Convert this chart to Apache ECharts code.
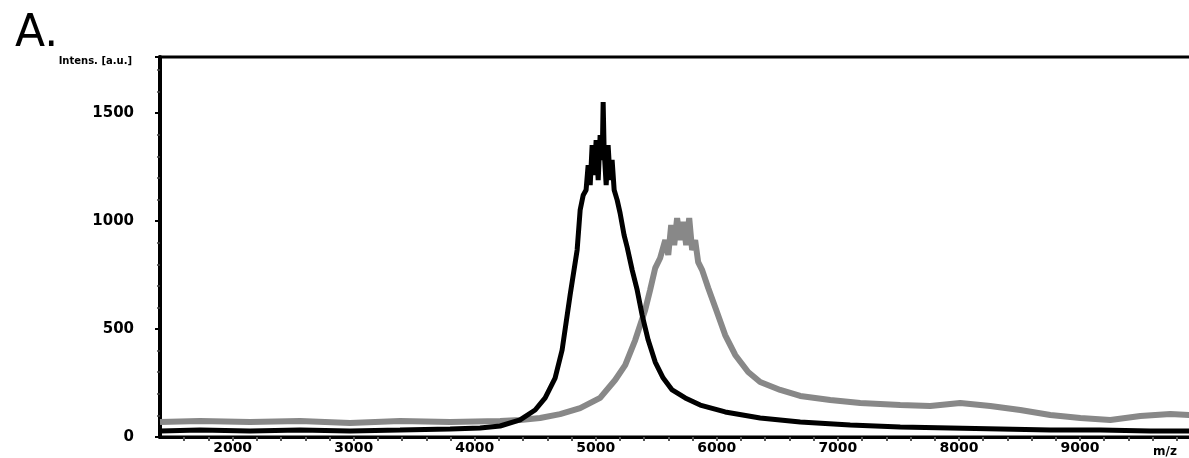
<!DOCTYPE html>
<html>
<head>
<meta charset="utf-8">
<script src="https://cdn.jsdelivr.net/npm/echarts@6/dist/echarts.min.js"></script>
<style>
  html, body { margin: 0; padding: 0; background: #fff; }
  #main { width: 1189px; height: 458px; }
</style>
</head>
<body>
<div id="main"></div>
<script>
// spectrum readings (m/z, intensity)
var blackMz = [1400, 1731, 2144, 2557, 2970, 3383, 3797, 4044, 4210, 4375, 4499, 4582, 4664, 4722, 4788, 4846, 4871, 4896,
  4920, 4937, 4954, 4970, 4987, 5003, 5020, 5036, 5053, 5061, 5069, 5086, 5102, 5119, 5135, 5152, 5177,
  5201, 5234, 5259, 5301, 5342, 5383, 5433, 5491, 5557, 5631, 5739, 5863, 6069, 6358, 6689, 7102, 7515, 7929, 8342, 8755, 9168, 9581, 9904]
var blackVal = [28, 32, 28, 32, 28, 32, 37, 42, 51, 79, 125, 181, 273, 403, 657, 866, 1051, 1120,
  1144, 1259, 1167, 1352, 1213, 1375, 1190, 1398, 1283, 1551, 1329, 1167, 1352, 1190, 1283, 1144, 1097,
  1037, 935, 880, 773, 681, 565, 449, 347, 273, 218, 181, 148, 116, 88, 69, 56, 46, 42, 37, 32, 32, 28, 28]

var grayMz = [1400, 1731, 2144, 2557, 2970, 3383, 3797, 4210, 4375, 4540, 4705, 4871, 5036, 5160, 5243, 5326, 5408,
  5449, 5491, 5532, 5574, 5599, 5623, 5648, 5672, 5697, 5722, 5747, 5772, 5796, 5821, 5846, 5879, 5929, 5995,
  6069, 6152, 6259, 6358, 6524, 6689, 6937, 7185, 7515, 7763, 8011, 8259, 8507, 8755, 9003, 9251, 9499, 9747, 9904]
var grayVal = [69, 74, 69, 74, 65, 74, 69, 74, 79, 88, 106, 134, 181, 264, 333, 449, 588,
  681, 782, 829, 912, 843, 982, 889, 1014, 912, 996, 889, 1014, 866, 912, 810, 773, 690, 588,
  472, 380, 301, 255, 218, 190, 171, 157, 148, 144, 157, 144, 125, 102, 88, 79, 97, 106, 102]

var xTickLabels = [2000, 3000, 4000, 5000, 6000, 7000, 8000, 9000]
var yTickLabels = [0, 500, 1000, 1500]

function pairs (xs, ys) {
  return xs.map(function (x, i) { return [x, ys[i]] })
}

var myChart = echarts.init(document.getElementById('main'))
var option = {
  animation: false,
  backgroundColor: '#fff',
  title: {
    text: 'A.',
    left: 10,
    top: 8,
    textStyle: { fontFamily: 'DejaVu Sans', fontSize: 44, fontWeight: 'normal', color: '#000' }
  },
  graphic: [
    {
      type: 'text',
      right: 1189 - 132,
      top: 56,
      style: { text: 'Intens. [a.u.]', fontFamily: 'DejaVu Sans', fontSize: 10, fontWeight: 'bold', fill: '#000' }
    },
    {
      type: 'text',
      left: 1153,
      top: 446,
      style: { text: 'm/z', fontFamily: 'DejaVu Sans', fontSize: 12, fontWeight: 'bold', fill: '#000' }
    }
  ],
  grid: {
    left: 160,
    top: 57,
    bottom: 21,
    right: -12,
    show: true,
    borderColor: '#000',
    borderWidth: 3,
    outerBoundsMode: 'none'
  },
  xAxis: {
    type: 'value',
    min: 1400,
    max: 10000,
    interval: 200,
    splitLine: { show: false },
    axisLine: { lineStyle: { color: '#000', width: 3 } },
    axisTick: { length: 4, lineStyle: { color: '#555', width: 2 } },
    axisLabel: {
      margin: 4,
      fontFamily: 'DejaVu Sans',
      fontSize: 14,
      fontWeight: 'bold',
      color: '#000',
      showMinLabel: false,
      showMaxLabel: false,
      formatter: function (v) {
        return xTickLabels.indexOf(v) >= 0 ? String(v) : ''
      }
    }
  },
  yAxis: {
    type: 'value',
    min: 0,
    max: 1760,
    interval: 500,
    splitLine: { show: false },
    axisLine: { lineStyle: { color: '#000', width: 4 } },
    axisTick: { length: 5, lineStyle: { color: '#000', width: 2 } },
    minorTick: { show: true, splitNumber: 5, length: 3, lineStyle: { color: '#444', width: 1.5 } },
    axisLabel: {
      margin: 26,
      fontFamily: 'DejaVu Sans',
      fontSize: 15,
      fontWeight: 'bold',
      color: '#000',
      showMaxLabel: false,
      formatter: function (v) {
        return yTickLabels.indexOf(v) >= 0 ? String(v) : ''
      }
    }
  },
  series: [
    {
      name: 'gray',
      type: 'line',
      showSymbol: false,
      data: pairs(grayMz, grayVal),
      lineStyle: { color: '#888888', width: 6 }
    },
    {
      name: 'black',
      type: 'line',
      showSymbol: false,
      data: pairs(blackMz, blackVal),
      lineStyle: { color: '#000', width: 5 }
    }
  ]
}
myChart.setOption(option)
</script>
</body>
</html>
